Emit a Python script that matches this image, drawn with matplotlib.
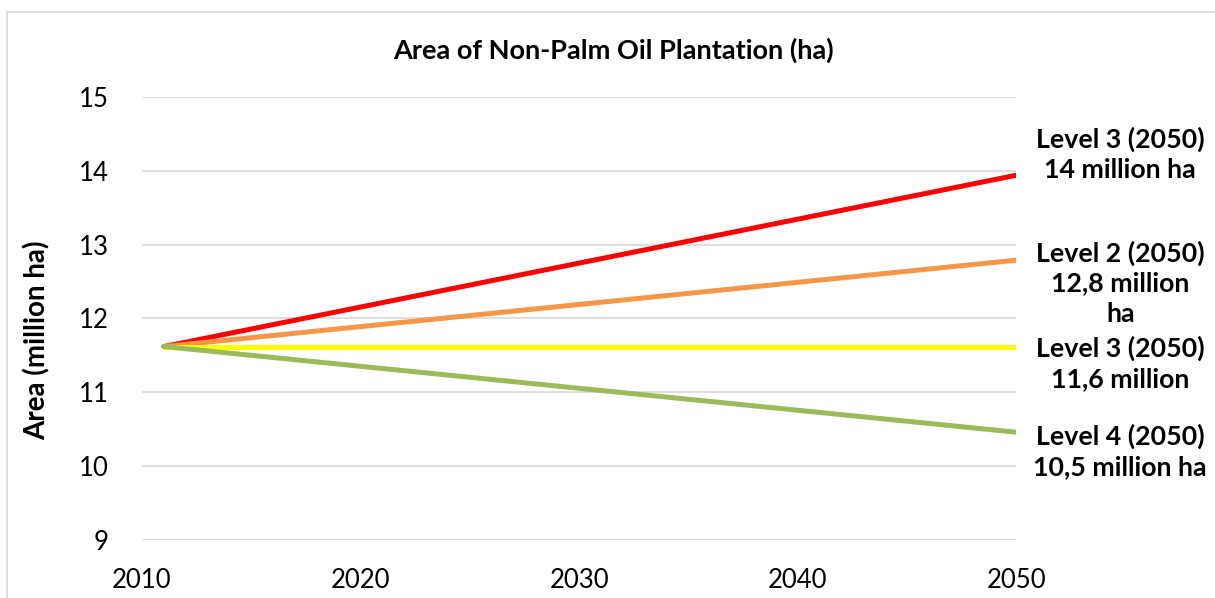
import matplotlib.pyplot as plt
from matplotlib.patches import Rectangle

# Data
years = [2011, 2050]
level3_high = [11.62, 13.94]   # red
level2 = [11.62, 12.79]        # orange
level3_flat = [11.62, 11.62]   # yellow
level4 = [11.62, 10.46]        # green

x_ticks = [2010, 2020, 2030, 2040, 2050]
y_ticks = [9, 10, 11, 12, 13, 14, 15]

labels = [
    ("Level 3 (2050)\n14 million ha", 0.742),
    ("Level 2 (2050)\n12,8 million\nha", 0.527),
    ("Level 3 (2050)\n11,6 million", 0.393),
    ("Level 4 (2050)\n10,5 million ha", 0.245),
]

plt.rcParams['font.family'] = ['Lato', 'DejaVu Sans']

fig = plt.figure(figsize=(12.15, 5.98), dpi=100)
ax = fig.add_axes([0.1169, 0.097, 0.7194, 0.7408])

# garis tiap skenario
ax.plot(years, level3_high, color='#FF0000', lw=3.6, solid_capstyle='round')
ax.plot(years, level2, color='#F79646', lw=3.6, solid_capstyle='round')
ax.plot(years, level3_flat, color='#FFFF00', lw=3.6, solid_capstyle='round')
ax.plot(years, level4, color='#9BBB59', lw=3.6, solid_capstyle='round')

ax.set_xlim(2010, 2050)
ax.set_ylim(9, 15)
ax.set_xticks(x_ticks)
ax.set_yticks(y_ticks)
ax.grid(axis='y', color='#D9D9D9', lw=1.2)
ax.set_axisbelow(True)
for s in ax.spines.values():
    s.set_visible(False)
ax.tick_params(axis='both', length=0, labelsize=18.5, colors='black')
ax.tick_params(axis='y', pad=24)
ax.tick_params(axis='x', pad=20)

ax.set_ylabel("Area (million ha)", fontsize=20, fontweight='bold')
ax.yaxis.set_label_coords(-0.105, 0.451)
fig.text(0.505, 0.916, "Area of Non-Palm Oil Plantation (ha)", ha='center', va='center',
         fontsize=19.5, fontweight='bold')

for txt, yy in labels:
    fig.text(0.922, yy, txt, ha='center', va='center', fontsize=19.3, fontweight='bold',
             linespacing=1.3)

# bingkai tipis
fig.patches.append(Rectangle((0.006, -0.1), 1.2, 1.08, transform=fig.transFigure,
                             fill=False, edgecolor='#D9D9D9', lw=1.2))

fig.savefig("out.png", dpi=100)
